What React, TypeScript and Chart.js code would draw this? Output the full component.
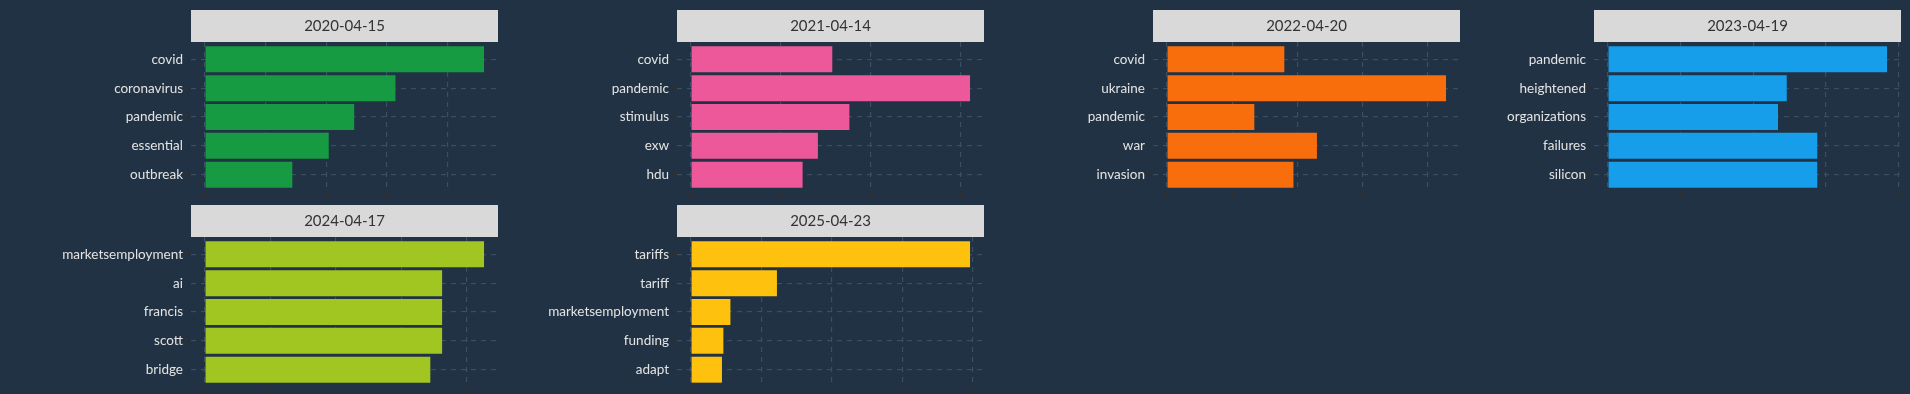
import React, { useEffect, useRef } from "react";
import { Chart, registerables } from "chart.js";

Chart.register(...registerables);

// ---------- data ----------
const panelDates = ["2020-04-15", "2021-04-14", "2022-04-20", "2023-04-19", "2024-04-17", "2025-04-23"];

const terms2020 = ["covid", "coronavirus", "pandemic", "essential", "outbreak"];
const values2020 = [23.0, 15.7, 12.3, 10.2, 7.2];

const terms2021 = ["covid", "pandemic", "stimulus", "exw", "hdu"];
const values2021 = [15.7, 31.0, 17.6, 14.1, 12.4];

const terms2022 = ["covid", "ukraine", "pandemic", "war", "invasion"];
const values2022 = [9.0, 21.4, 6.7, 11.5, 9.7];

const terms2023 = ["pandemic", "heightened", "organizations", "failures", "silicon"];
const values2023 = [19.2, 12.3, 11.7, 14.4, 14.4];

const terms2024 = ["marketsemployment", "ai", "francis", "scott", "bridge"];
const values2024 = [21.3, 18.1, 18.1, 18.1, 17.2];

const terms2025 = ["tariffs", "tariff", "marketsemployment", "funding", "adapt"];
const values2025 = [19.8, 6.1, 2.8, 2.3, 2.2];

const panelTerms = [terms2020, terms2021, terms2022, terms2023, terms2024, terms2025];
const panelValues = [values2020, values2021, values2022, values2023, values2024, values2025];
const barColors = ["#179B42", "#EC5899", "#F96E0C", "#169EEA", "#A1C622", "#FEC20E"];
const tickSteps = [5, 10, 5, 5, 5, 5];

// ---------- styling / layout ----------
const BG = "#203244";
const GRID = "#3a4e64";
const TICK = "#2e2e2e";
const LABEL = "#e3e3e3";
const STRIP_BG = "#d9d9d9";
const STRIP_TEXT = "#333333";
const STRIP_H = 32;
const PANEL_W = 307;
const PANEL_H = 150;
const TICK_LEN = 5;
const PAD_BOTTOM = 12;

const colLefts = [191, 677, 1153, 1594];
const axisWidths = [180, 165, 155, 130];
const rowTops = [10, 205];

const stripPlugin = {
  id: "strip",
  afterDraw(chart: any, _args: any, opts: any) {
    const { ctx, chartArea } = chart;
    ctx.save();
    ctx.fillStyle = STRIP_BG;
    ctx.fillRect(chartArea.left, chartArea.top - STRIP_H, chartArea.right - chartArea.left, STRIP_H);
    ctx.fillStyle = STRIP_TEXT;
    ctx.font = "15px Lato";
    ctx.textAlign = "center";
    ctx.textBaseline = "middle";
    ctx.fillText(opts.text, (chartArea.left + chartArea.right) / 2, chartArea.top - STRIP_H / 2 + 0.5);
    ctx.restore();
  },
};

function Panel({ idx }: { idx: number }) {
  const ref = useRef<HTMLCanvasElement | null>(null);
  const col = idx % 4;
  const row = Math.floor(idx / 4);
  const yW = axisWidths[col];
  const left = colLefts[col] - yW;
  const top = rowTops[row];
  const width = yW + PANEL_W;
  const height = STRIP_H + PANEL_H + TICK_LEN + PAD_BOTTOM;

  useEffect(() => {
    let chart: Chart | null = null;
    let cancelled = false;
    const terms = panelTerms[idx];
    const values = panelValues[idx];
    const vmax = Math.max(...values);
    const gridOpts = {
      offset: false,
      color: GRID,
      lineWidth: 1.2,
      drawTicks: true,
      tickLength: TICK_LEN,
      tickColor: TICK,
      tickWidth: 1.2,
    };
    const build = () => {
      if (cancelled || !ref.current) return;
      chart = new Chart(ref.current, {
        type: "bar",
        data: {
          datasets: [
            {
              data: values.map((v, i) => ({ x: v, y: i })),
              backgroundColor: barColors[idx],
              borderWidth: 0,
              barPercentage: 0.9,
              categoryPercentage: 1,
            },
          ],
        },
        plugins: [stripPlugin],
        options: {
          indexAxis: "y",
          responsive: false,
          animation: false,
          events: [],
          layout: { padding: { top: STRIP_H, bottom: PAD_BOTTOM, left: 0, right: 0 } },
          plugins: {
            legend: { display: false },
            tooltip: { enabled: false },
            strip: { text: panelDates[idx] },
          } as any,
          scales: {
            x: {
              type: "linear",
              offset: false,
              min: -0.05 * vmax,
              max: 1.05 * vmax,
              ticks: { display: false, stepSize: tickSteps[idx], includeBounds: false },
              grid: gridOpts,
              border: { display: false, dash: [5, 5] },
            },
            y: {
              type: "linear",
              offset: false,
              reverse: true,
              min: -0.6,
              max: terms.length - 0.4,
              afterBuildTicks: (s: any) => {
                s.ticks = terms.map((_, i) => ({ value: i }));
              },
              afterFit: (s: any) => {
                s.width = yW;
              },
              ticks: {
                autoSkip: false,
                padding: 3,
                color: LABEL,
                font: { family: "Lato", size: 13.5 },
                callback: (v: any) => terms[v as number],
              },
              grid: gridOpts,
              border: { display: false, dash: [5, 5] },
            },
          },
        } as any,
      });
    };
    const fontsApi = (document as any).fonts;
    if (fontsApi && fontsApi.load) {
      Promise.all([fontsApi.load("13.5px Lato"), fontsApi.load("15px Lato")]).then(build, build);
    } else {
      build();
    }
    return () => {
      cancelled = true;
      if (chart) chart.destroy();
    };
  }, [idx]);

  return (
    <canvas
      ref={ref}
      width={width}
      height={height}
      style={{ position: "absolute", left, top, width, height, display: "block" }}
    />
  );
}

export default function App() {
  useEffect(() => {
    document.body.style.margin = "0";
    document.body.style.background = BG;
  }, []);
  return (
    <div style={{ position: "absolute", left: 0, top: 0, width: 1910, height: 394, background: BG, overflow: "hidden" }}>
      {panelDates.map((_, i) => (
        <Panel key={i} idx={i} />
      ))}
    </div>
  );
}
